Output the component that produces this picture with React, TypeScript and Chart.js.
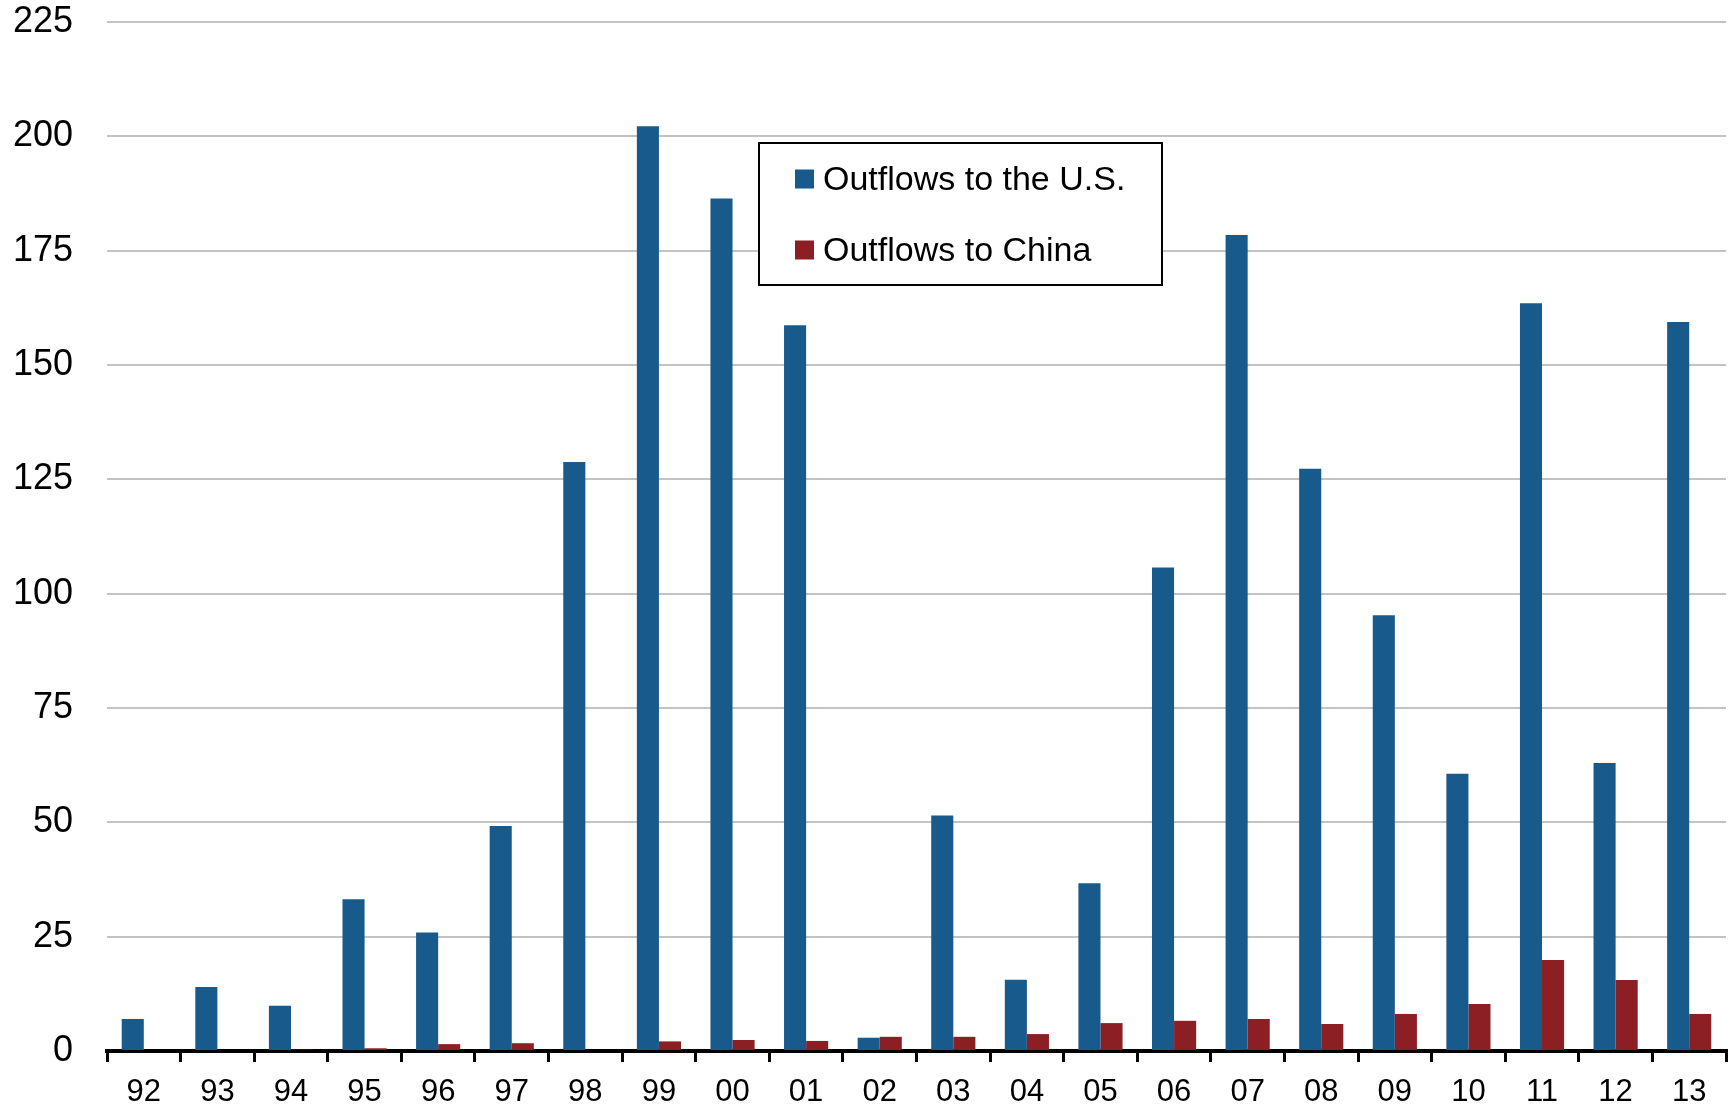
import React, { useEffect, useRef } from "react";
import { Chart, registerables } from "chart.js";

Chart.register(...registerables);

const categories = ["92", "93", "94", "95", "96", "97", "98", "99", "00", "01", "02", "03", "04", "05", "06", "07", "08", "09", "10", "11", "12", "13"];
const outflowsUS = [7.0, 14.0, 9.9, 33.2, 25.9, 49.2, 128.8, 202.2, 186.4, 158.7, 2.9, 51.5, 15.6, 36.7, 105.7, 178.4, 127.3, 95.3, 60.6, 163.5, 63.0, 159.4];
const outflowsChina = [0, 0, 0.3, 0.6, 1.5, 1.7, 0, 2.1, 2.4, 2.2, 3.1, 3.1, 3.7, 6.1, 6.6, 7.0, 5.9, 8.1, 10.3, 19.9, 15.5, 8.1];
const seriesLabels = ["Outflows to the U.S.", "Outflows to China"];
const seriesColors = ["#185A8B", "#8B1F23"];
const yTicks = { min: 0, max: 225, step: 25 };

const FONT = "'Liberation Sans', Arial, Helvetica, sans-serif";

const boxLegend = {
  id: "boxLegend",
  afterDraw(chart: any) {
    const ctx = chart.ctx;
    const x0 = 759, y0 = 143, w = 403, h = 142;
    ctx.save();
    ctx.fillStyle = "#ffffff";
    ctx.fillRect(x0, y0, w, h);
    ctx.strokeStyle = "#000000";
    ctx.lineWidth = 2;
    ctx.strokeRect(x0, y0, w, h);
    ctx.font = `34px ${FONT}`;
    ctx.textBaseline = "alphabetic";
    ctx.textAlign = "left";
    const rows = [189.5, 260.5];
    chart.data.datasets.forEach((ds: any, i: number) => {
      const base = rows[i];
      ctx.fillStyle = ds.backgroundColor;
      ctx.fillRect(795, base - 20, 19, 19);
      ctx.fillStyle = "#000000";
      ctx.fillText(ds.label, 823, base);
    });
    ctx.restore();
  },
};

export default function App() {
  const ref = useRef<HTMLCanvasElement | null>(null);
  useEffect(() => {
    if (!ref.current) return;
    Chart.defaults.font.family = FONT;
    const chart = new Chart(ref.current, {
      type: "bar",
      data: {
        labels: categories,
        datasets: [
          { label: seriesLabels[0], data: outflowsUS, backgroundColor: seriesColors[0], borderWidth: 0 },
          { label: seriesLabels[1], data: outflowsChina, backgroundColor: seriesColors[1], borderWidth: 0 },
        ],
      },
      options: {
        animation: false,
        responsive: false,
        devicePixelRatio: 1,
        datasets: { bar: { categoryPercentage: 0.6, barPercentage: 1.0 } },
        layout: { padding: { left: 0, right: 7, top: 22, bottom: 0 } },
        plugins: { legend: { display: false }, tooltip: { enabled: false } },
        scales: {
          x: {
            z: 1,
            grid: {
              display: true,
              offset: true,
              drawOnChartArea: false,
              drawTicks: true,
              tickLength: 11,
              lineWidth: 3,
              color: "#000000",
            },
            border: { display: true, color: "#000000", width: 4 },
            ticks: { color: "#000000", font: { size: 31, family: FONT }, padding: 12, maxRotation: 0, autoSkip: false },
            afterFit(scale: any) {
              scale.height = 54;
              scale.paddingLeft = 0;
              scale.paddingRight = 0;
            },
          },
          y: {
            min: yTicks.min,
            max: yTicks.max,
            grid: { color: "#c3c3c3", lineWidth: 2, drawTicks: false },
            border: { display: false },
            ticks: { stepSize: yTicks.step, color: "#000000", font: { size: 36, family: FONT }, padding: 34 },
            afterFit(scale: any) {
              scale.width = 107;
              scale.paddingTop = 0;
              scale.paddingBottom = 0;
            },
          },
        },
      },
      plugins: [boxLegend],
    });
    return () => chart.destroy();
  }, []);
  return (
    <div style={{ position: "absolute", left: 0, top: 0, width: 1733, height: 1105, background: "#ffffff" }}>
      <canvas ref={ref} width={1733} height={1105} style={{ display: "block" }} />
    </div>
  );
}
